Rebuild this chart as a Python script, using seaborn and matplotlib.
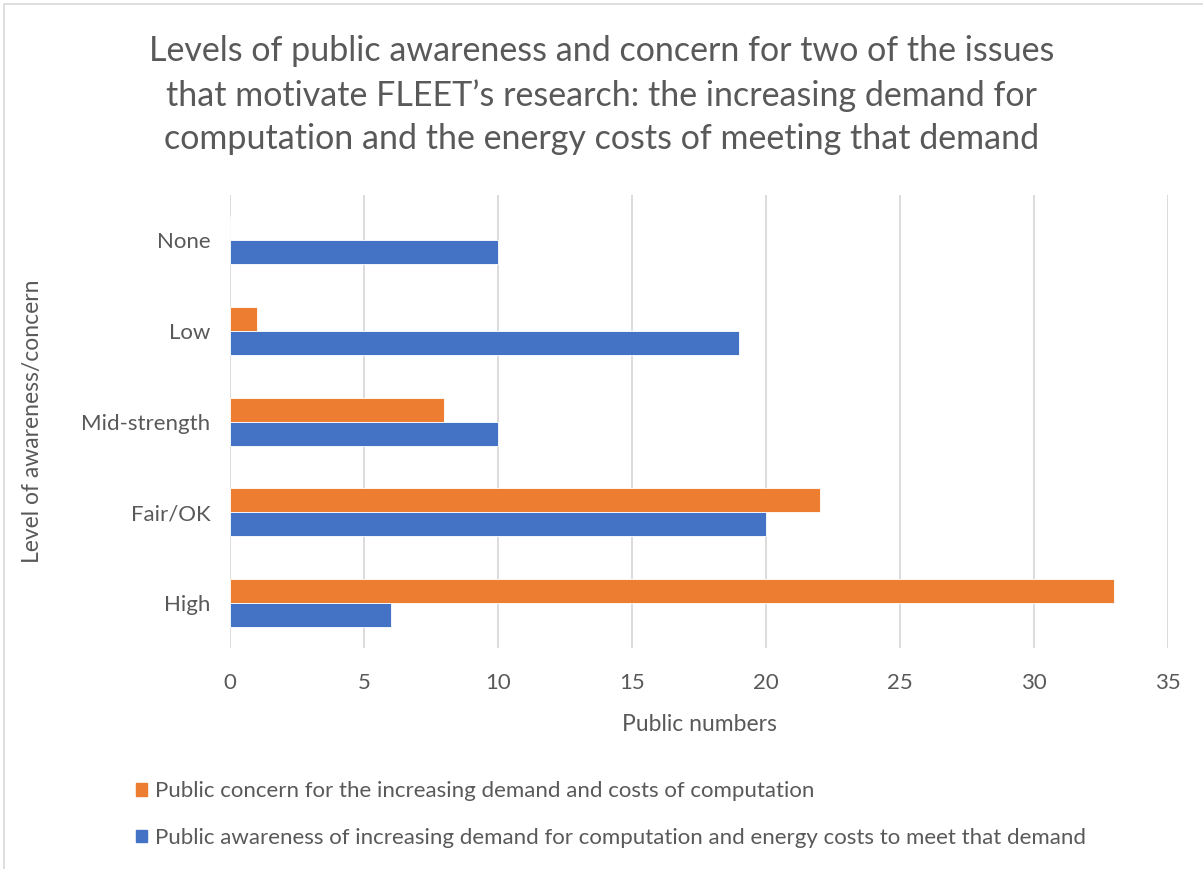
import numpy as np
import pandas as pd
import matplotlib.pyplot as plt
import matplotlib.patches as mpatches
import seaborn as sns

# ---------------------------------------------------------------------------
# Data
# ---------------------------------------------------------------------------
levels = ["None", "Low", "Mid-strength", "Fair/OK", "High"]
concern = [0, 1, 8, 22, 33]
awareness = [10, 19, 10, 20, 6]

SERIES_CONCERN = "Public concern for the increasing demand and costs of computation"
SERIES_AWARE = ("Public awareness of increasing demand for computation "
                "and energy costs to meet that demand")

COLOR_CONCERN = "#ED7D31"
COLOR_AWARE = "#4472C4"
TEXT_GREY = "#595959"
GRID_GREY = "#D9D9D9"

df = pd.DataFrame({
    "level": levels * 2,
    "value": concern + awareness,
    "series": [SERIES_CONCERN] * len(levels) + [SERIES_AWARE] * len(levels),
})

sns.set_theme(style="white")
plt.rcParams["font.family"] = ["Lato", "DejaVu Sans"]

fig = plt.figure(figsize=(12.03, 8.69), dpi=100)
ax = fig.add_axes([0.1912, 0.254, 0.7797, 0.5215])

sns.barplot(
    data=df, y="level", x="value", hue="series",
    order=levels, hue_order=[SERIES_CONCERN, SERIES_AWARE],
    palette=[COLOR_CONCERN, COLOR_AWARE], saturation=1,
    orient="h", width=0.53, gap=0, errorbar=None,
    edgecolor="white", linewidth=0.6, ax=ax, zorder=3,
)

ax.set_xlim(0, 35)
ax.set_xticks(np.arange(0, 36, 5))
ax.set_ylim(4.5, -0.5)
ax.grid(axis="x", color=GRID_GREY, linewidth=1.3, zorder=0)
ax.grid(axis="y", visible=False)
for s in ax.spines.values():
    s.set_visible(False)
ax.tick_params(axis="both", length=0, labelsize=16, colors=TEXT_GREY, pad=14)
ax.tick_params(axis="x", pad=18)

ax.set_xlabel("Public numbers", fontsize=16.5, color=TEXT_GREY, labelpad=15)
ax.set_ylabel("Level of awareness/concern", fontsize=16.5, color=TEXT_GREY, labelpad=28)

fig.text(0.5, 0.96,
         "Levels of public awareness and concern for two of the issues\n"
         "that motivate FLEET\u2019s research: the increasing demand for\n"
         "computation and the energy costs of meeting that demand",
         ha="center", va="top", fontsize=24.5, color=TEXT_GREY, linespacing=1.45)

# legend below the plot
ax.legend_.remove()
handles = [mpatches.Patch(color=COLOR_CONCERN, label=SERIES_CONCERN),
           mpatches.Patch(color=COLOR_AWARE, label=SERIES_AWARE)]
fig.legend(handles=handles, loc="upper left", bbox_to_anchor=(0.113, 0.101),
           frameon=False, fontsize=16, labelcolor=TEXT_GREY,
           handlelength=0.5, handleheight=0.5, handletextpad=0.35,
           labelspacing=1.2, borderaxespad=0, borderpad=0)

# chart frame
fig.patches.append(mpatches.Rectangle((4 / 1203, -0.01), 1.1, 1 - 4 / 869 + 0.01,
                                      transform=fig.transFigure, fill=False,
                                      edgecolor=GRID_GREY, linewidth=1.2))

fig.savefig("out.png", dpi=100)
plt.close(fig)
